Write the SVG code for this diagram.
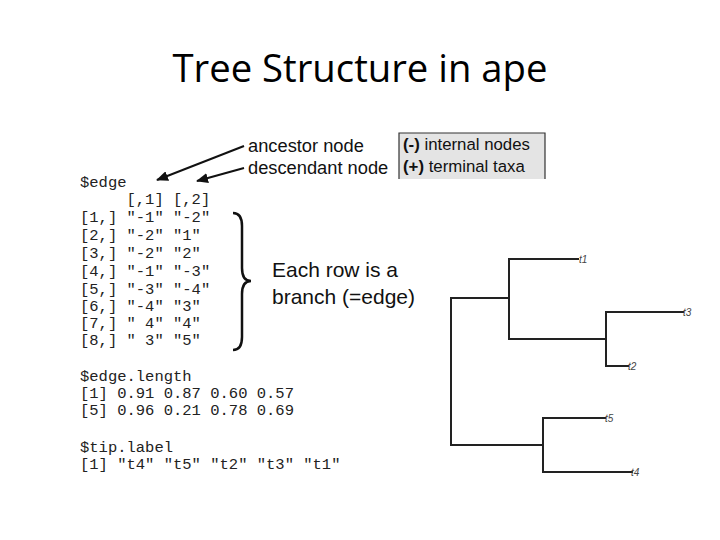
<svg xmlns="http://www.w3.org/2000/svg" width="720" height="540" viewBox="0 0 720 540">
  <style>
    .title { font-family: "Open Sans", "Liberation Sans", sans-serif; font-size: 38px; fill: #000; }
    .lab { font-family: "Liberation Sans", Arial, sans-serif; fill: #111; }
    .code { font-family: "Liberation Mono", "DejaVu Sans Mono", monospace; font-size: 15.5px; fill: #222; white-space: pre; }
    .tree { fill: none; stroke: #222; stroke-width: 2; stroke-linecap: square; }
    .tip { font-family: "Liberation Sans", Arial, sans-serif; font-size: 10px; font-style: italic; fill: #444; }
    .arrow { fill: none; stroke: #111; stroke-width: 2; }
  </style>
  <defs>
    <marker id="ah" viewBox="0 0 12 10" refX="11" refY="5" markerWidth="12" markerHeight="10" markerUnits="userSpaceOnUse" orient="auto">
      <path d="M0,0 L12,5 L0,10 Z" fill="#111"/>
    </marker>
  </defs>
  <rect width="720" height="540" fill="#fff"/>

  <g id="title">
    <text class="title" x="360" y="82" text-anchor="middle" textLength="375" lengthAdjust="spacingAndGlyphs">Tree Structure in ape</text>
  </g>

  <g id="ancestor-label">
    <text class="lab" x="248" y="152" font-size="18.3">ancestor node</text>
  </g>
  <g id="descendant-label">
    <text class="lab" x="248" y="174" font-size="18.3">descendant node</text>
  </g>

  <g id="legend">
    <rect x="399" y="133" width="146" height="46" fill="#e4e4e4"/>
    <path d="M399,179 L399,133 L545,133 L545,179" fill="none" stroke="#333" stroke-width="1.2"/>
    <text class="lab" x="403" y="150" font-size="16.8"><tspan font-weight="bold">(-)</tspan>  internal nodes</text>
    <text class="lab" x="403" y="172" font-size="16.8"><tspan font-weight="bold">(+)</tspan> terminal taxa</text>
  </g>

  <g id="edge-matrix">
    <text class="code" x="80" y="187">$edge</text>
    <text class="code" x="80" y="204" xml:space="preserve">     [,1] [,2]</text>
    <text class="code" x="80" y="222" xml:space="preserve">[1,] "-1" "-2"</text>
    <text class="code" x="80" y="240" xml:space="preserve">[2,] "-2" "1"</text>
    <text class="code" x="80" y="258" xml:space="preserve">[3,] "-2" "2"</text>
    <text class="code" x="80" y="276" xml:space="preserve">[4,] "-1" "-3"</text>
    <text class="code" x="80" y="294" xml:space="preserve">[5,] "-3" "-4"</text>
    <text class="code" x="80" y="311" xml:space="preserve">[6,] "-4" "3"</text>
    <text class="code" x="80" y="328" xml:space="preserve">[7,] " 4" "4"</text>
    <text class="code" x="80" y="345" xml:space="preserve">[8,] " 3" "5"</text>
  </g>

  <g id="edge-length">
    <text class="code" x="80" y="381">$edge.length</text>
    <text class="code" x="80" y="398" xml:space="preserve">[1] 0.91 0.87 0.60 0.57</text>
    <text class="code" x="80" y="415" xml:space="preserve">[5] 0.96 0.21 0.78 0.69</text>
  </g>

  <g id="tip-label">
    <text class="code" x="80" y="452">$tip.label</text>
    <text class="code" x="80" y="469" xml:space="preserve">[1] "t4" "t5" "t2" "t3" "t1"</text>
  </g>

  <g id="brace">
    <path d="M233,213 Q242,213 242,226 L242,268 Q242,281 251,281 Q242,281 242,294 L242,337 Q242,350 233,350" fill="none" stroke="#111" stroke-width="2.5"/>
  </g>

  <g id="brace-label">
    <text class="lab" x="272" y="277" font-size="21">Each row is a</text>
    <text class="lab" x="272" y="304" font-size="21">branch (=edge)</text>
  </g>

  <g id="tree">
    <path class="tree" d="M451,298 L451,445"/>
    <path class="tree" d="M451,298 L509,298"/>
    <path class="tree" d="M509,259 L509,339"/>
    <path class="tree" d="M509,259 L578,259" stroke="#555"/>
    <path class="tree" d="M509,339 L606,339"/>
    <path class="tree" d="M606,312 L606,366"/>
    <path class="tree" d="M606,312 L683,312"/>
    <path class="tree" d="M606,366 L628,366"/>
    <path class="tree" d="M451,445 L543,445"/>
    <path class="tree" d="M543,418 L543,472"/>
    <path class="tree" d="M543,418 L605,418"/>
    <path class="tree" d="M543,472 L632,472"/>
    <text class="tip" x="579" y="263">t1</text>
    <text class="tip" x="683" y="316">t3</text>
    <text class="tip" x="628" y="370">t2</text>
    <text class="tip" x="605" y="422">t5</text>
    <text class="tip" x="631" y="476">t4</text>
  </g>

  <g id="connectors">
    <path class="arrow" d="M244,146 L157,180" marker-end="url(#ah)"/>
    <path class="arrow" d="M244,168 L197,181" marker-end="url(#ah)"/>
  </g>
</svg>
